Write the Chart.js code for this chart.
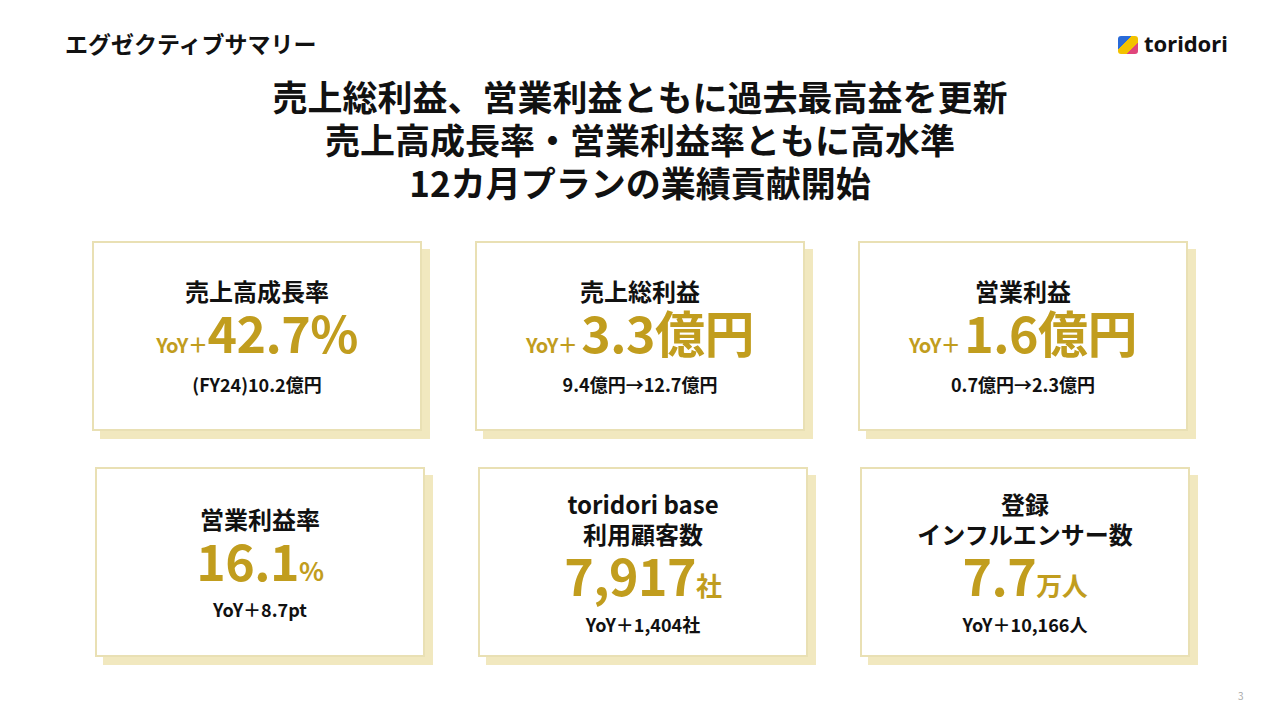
<!DOCTYPE html>
<html><head><meta charset="utf-8">
<script src="https://cdn.jsdelivr.net/npm/chart.js@4/dist/chart.umd.min.js"></script>
<style>
body{margin:0;width:1280px;height:720px;background:#fff;font-family:"Noto Sans CJK JP","Noto Sans",sans-serif;position:relative;overflow:hidden;color:#111}
.abs{position:absolute}
#hdr{left:65px;top:28px;font-size:23px;font-weight:700;line-height:30px}
#logo{left:1118px;top:28px;font-size:22px;font-weight:700;font-family:"Noto Sans","Inter",sans-serif;line-height:30px}
#logo span{display:inline-block;width:20px;height:18px;background:linear-gradient(135deg,#2a6bd8 0 35%,#f2c200 35% 70%,#e0457b 70%);margin-right:6px;vertical-align:-2px;border-radius:3px}
#head{left:0;width:1280px;top:74px;text-align:center;font-size:35px;font-weight:700;line-height:43px}
.box{position:absolute;width:326px;height:186px;border:2px solid #e9e0b4;background:#fff;box-shadow:8px 8px 0 #f1e8bf;text-align:center;display:flex;flex-direction:column;justify-content:center;align-items:center}
.t{font-size:24px;font-weight:700;line-height:30px}
.big{font-size:50px;font-weight:700;color:#c19d1e;line-height:50px;letter-spacing:-0.5px}
.big small{font-size:26px}
.big .pre{font-size:20px}
.s{font-size:18px;font-weight:700;margin-top:2px;line-height:24px}
#pg{left:1238px;top:688px;font-size:10px;color:#aaa}
</style></head><body>
<div class="abs" id="hdr">エグゼクティブサマリー</div>
<div class="abs" id="logo"><span></span>toridori</div>
<div class="abs" id="head"></div>
<div id="boxes"></div>
<div class="abs" id="pg">3</div>
<canvas id="c" width="1" height="1" style="position:absolute;left:0;top:0;width:1px;height:1px"></canvas>
<script>
const headlines=["売上総利益、営業利益ともに過去最高益を更新","売上高成長率・営業利益率ともに高水準","12カ月プランの業績貢献開始"];
const titles=[["売上高成長率"],["売上総利益"],["営業利益"],["営業利益率"],["toridori base","利用顧客数"],["登録","インフルエンサー数"]];
const prefixes=["YoY＋","YoY＋ ","YoY＋ ","","",""];
const values=["42.7","3.3","1.6","16.1","7,917","7.7"];
const units=["%","億円","億円","%","社","万人"];
const subs=["(FY24)10.2億円","9.4億円→12.7億円","0.7億円→2.3億円","YoY＋8.7pt","YoY＋1,404社","YoY＋10,166人"];
const pos=[[92,241],[475,241],[858,241],[95,467],[478,467],[860,467]];
document.getElementById('head').innerHTML=headlines.join('<br>');
const b=document.getElementById('boxes');
values.forEach((v,i)=>{
 const d=document.createElement('div');d.className='box';
 d.style.left=pos[i][0]+'px';d.style.top=pos[i][1]+'px';
 const unitBig=i<3;
 d.innerHTML=`<div class="t">${titles[i].join('<br>')}</div>
 <div class="big">${prefixes[i]?`<span class="pre">${prefixes[i]}</span>`:''}${v}${unitBig?units[i]:`<small>${units[i]}</small>`}</div>
 <div class="s">${subs[i]}</div>`;
 b.appendChild(d);
});
new Chart(document.getElementById('c'),{type:'bar',data:{labels:[],datasets:[]},options:{responsive:false,animation:false,plugins:{legend:{display:false}},scales:{x:{display:false},y:{display:false}}}});
</script>
</body></html>
